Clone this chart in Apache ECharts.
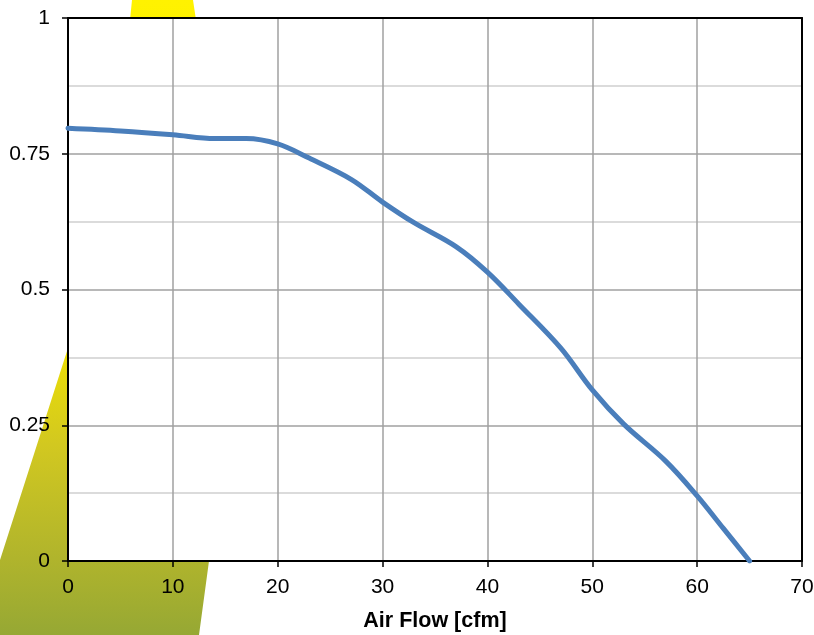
<!DOCTYPE html>
<html><head><meta charset="utf-8">
<script src="https://cdn.jsdelivr.net/npm/echarts@6/dist/echarts.min.js"></script>
<style>html,body{margin:0;padding:0;background:#fff}#c{width:814px;height:635px}</style>
</head><body><div id="c"></div>
<script>
var airFlow = [0, 5, 10, 14, 17, 20, 23, 27, 30, 33, 37, 40, 43, 47, 50, 53, 57, 60, 62.5, 65];
var pressure = [0.797, 0.792, 0.785, 0.778, 0.778, 0.768, 0.742, 0.703, 0.661, 0.623, 0.579, 0.532, 0.473, 0.392, 0.315, 0.252, 0.184, 0.120, 0.060, 0];
var xTicks = [0, 10, 20, 30, 40, 50, 60, 70];
var yTicks = [0, 0.25, 0.5, 0.75, 1];

var chart = echarts.init(document.getElementById('c'));
var pts = airFlow.map(function (x, i) { return [x, pressure[i]]; });
var frameAxis = {
  type: 'value', min: 0, max: 1, z: 5,
  axisLine: { show: true, onZero: false, lineStyle: { color: '#000', width: 2 } },
  axisTick: { show: false }, axisLabel: { show: false }, splitLine: { show: false }
};
chart.setOption({
  animation: false,
  backgroundColor: '#fff',
  textStyle: { fontFamily: 'Liberation Sans, Arial, sans-serif' },
  graphic: [{
    type: 'polygon', z: -100, silent: true,
    shape: { points: [[132,0],[193,0],[196,20],[260,300],[209,561],[199,635],[0,635],[0,560],[68,348],[100,200],[130,20]] },
    style: { fill: new echarts.graphic.LinearGradient(0, 0, 0, 1, [
      { offset: 0, color: '#fff200' }, { offset: 0.52, color: '#f2e400' },
      { offset: 0.7, color: '#d2c820' }, { offset: 0.88, color: '#b0b42c' }, { offset: 1, color: '#96a834' }]) }
  }],
  grid: { left: 68, right: 12, top: 18, bottom: 74, show: true, backgroundColor: '#fff', borderWidth: 0, outerBoundsMode: 'none', containLabel: false },
  xAxis: [{
    type: 'value', min: xTicks[0], max: xTicks[xTicks.length - 1], interval: 10,
    name: 'Air Flow [cfm]', nameLocation: 'middle', nameGap: 49,
    nameTextStyle: { fontSize: 21.5, fontWeight: 'bold', color: '#000' },
    axisLine: { lineStyle: { color: '#000', width: 2 } },
    axisTick: { show: true, length: 6, lineStyle: { color: '#000', width: 1.5 } },
    axisLabel: { fontSize: 21, color: '#000', margin: 16 },
    splitLine: { show: true, lineStyle: { color: '#a0a0a0', width: 1.5 } }
  }, Object.assign({ position: 'top' }, frameAxis)],
  yAxis: [{
    type: 'value', min: yTicks[0], max: yTicks[yTicks.length - 1], interval: 0.25,
    axisLine: { show: true, lineStyle: { color: '#000', width: 2 } },
    axisTick: { show: true, length: 6, lineStyle: { color: '#000', width: 1.5 } },
    axisLabel: { fontSize: 21, color: '#000', margin: 18 },
    splitLine: { show: true, lineStyle: { color: '#a0a0a0', width: 1.5 } },
    minorTick: { show: false, splitNumber: 2 },
    minorSplitLine: { show: true, lineStyle: { color: '#cfcfcf', width: 1.5 } }
  }, Object.assign({ position: 'right' }, frameAxis)],
  series: [{
    type: 'line', data: pts, smooth: 0.35, showSymbol: false, z: 10,
    lineStyle: { color: '#4a7ebb', width: 5, cap: 'round' }
  }]
});
</script></body></html>
